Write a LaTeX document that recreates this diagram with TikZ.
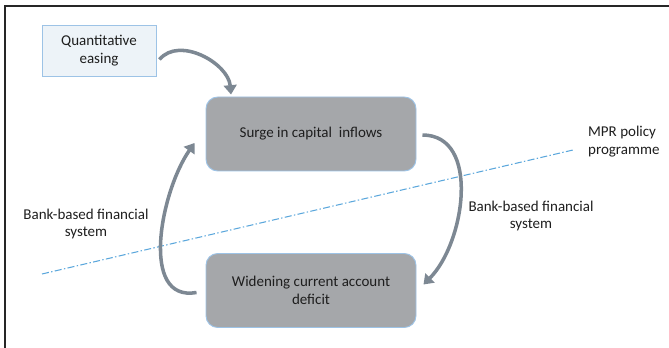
\documentclass[tikz,border=0pt]{standalone}
\usepackage{fontspec}
\setmainfont{Carlito}
\usetikzlibrary{arrows.meta}

\definecolor{boxgray}{HTML}{A5A7AA}
\definecolor{boxedge}{HTML}{9DC3E6}
\definecolor{qefill}{HTML}{EDF3F8}
\definecolor{arrowgray}{HTML}{7D8893}
\definecolor{policyblue}{HTML}{5BA7DC}
\definecolor{textgray}{HTML}{1E1E1E}

\tikzstyle{qebox}=[rectangle,
                   draw=boxedge,
                   fill=qefill,
                   line width=0.8pt,
                   minimum width=114*0.03cm,
                   minimum height=51*0.03cm,
                   align=center,
                   text=textgray]
\tikzstyle{flowbox}=[rectangle,
                     rounded corners=10pt,
                     draw=boxedge,
                     fill=boxgray,
                     line width=0.8pt,
                     minimum width=210*0.03cm,
                     minimum height=74*0.03cm,
                     align=center,
                     text=textgray]
\tikzstyle{sidelabel}=[align=center, text=textgray]
\tikzstyle{curvearrow}=[draw=arrowgray,
                        line width=3pt,
                        -{Triangle[length=8pt,width=11pt]}]

\begin{document}
\begin{tikzpicture}[x=0.03cm, y=-0.03cm, font=\fontsize{12.8}{15}\selectfont]
    \useasboundingbox (0,0) rectangle (669,348);
    \draw [line width=1pt, black!85] (5,348) -- (5,6) -- (669,6);

    \node [qebox] (qe) at (99,50.5) {Quantitative\\easing};
    \node [flowbox] (surge) at (311,134) {Surge in capital\ \ inflows};
    \node [flowbox] (widen) at (311,290.5) {Widening current account\\deficit};

    % policy line
    \coordinate (policystart) at (42,274);
    \coordinate (policyend) at (573,150);
    \draw [policyblue, line width=0.9pt, dash pattern=on 6pt off 2pt on 1.2pt off 2pt] (policystart) -- (policyend);
    \node [align=left, text=textgray, anchor=west] (mpr) at (584,141.5) {MPR policy\\programme};

    \node [sidelabel] (leftlabel) at (86,224) {Bank-based financial\\system};
    \node [sidelabel] (rightlabel) at (531,216) {Bank-based financial\\system};

    \draw [curvearrow] ([shift={(3,9)}]qe.east) to [out=50, in=95] ([shift={(-80,-2)}]surge.north);
    \draw [curvearrow] ([shift={(-9,2)}]widen.west) to [out=190, in=235] ([shift={(-11,9)}]surge.west);
    \draw [curvearrow] ([shift={(6,1)}]surge.east) to [out=0, in=45] ([shift={(7,-6)}]widen.east);
\end{tikzpicture}
\end{document}
